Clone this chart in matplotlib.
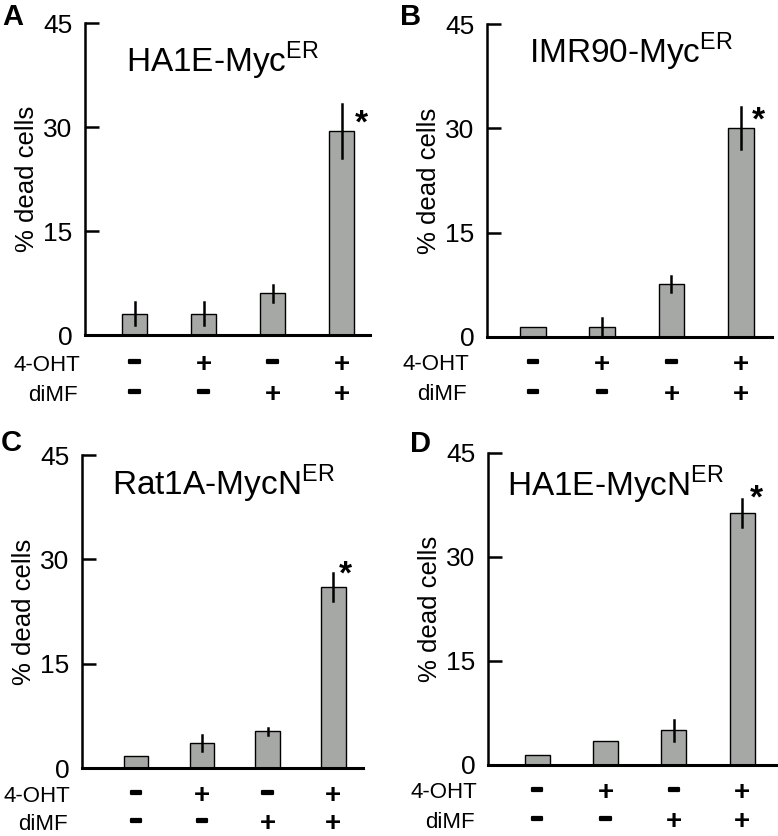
import matplotlib
matplotlib.use('Agg')
import matplotlib.pyplot as plt
import matplotlib.patheffects as pe

plt.rcParams['font.family'] = ['Liberation Sans', 'DejaVu Sans']
plt.rcParams['mathtext.fontset'] = 'custom'
plt.rcParams['mathtext.rm'] = 'Liberation Sans'

# datos
letras = ['A', 'B', 'C', 'D']
titulos = [r'HA1E-Myc$^{\mathrm{ER}}$', r'IMR90-Myc$^{\mathrm{ER}}$',
           r'Rat1A-MycN$^{\mathrm{ER}}$', r'HA1E-MycN$^{\mathrm{ER}}$']
oht = ['-', '+', '-', '+']
dimf = ['-', '-', '+', '+']
medias_A = [3.1, 3.1, 6.0, 29.4]
err_A = [1.6, 1.6, 1.2, 3.9]
medias_B = [1.4, 1.4, 7.6, 30.0]
err_B = [0, 1.3, 1.2, 3.0]
medias_C = [1.7, 3.6, 5.3, 26.0]
err_C = [0, 1.2, 0.5, 2.0]
medias_D = [1.4, 3.5, 5.0, 36.3]
err_D = [0, 0, 1.5, 2.0]
yticks = [0, 15, 30, 45]

medias = [medias_A, medias_B, medias_C, medias_D]
errores = [err_A, err_B, err_C, err_D]

# posiciones en pixeles (izq, der, abajo, arriba)
cajas = [(85, 370, 335, 23), (487, 772, 337, 24), (82, 363, 768, 455), (488, 777, 765, 453)]
xlims = [(-0.72, 3.41), (-0.66, 3.45), (-0.82, 3.45), (-0.72, 3.51)]
pos_titulo = [(-0.12, 37.9), (-0.06, 39.4), (-0.37, 39.2), (-0.44, 38.8)]
pos_ast = [(3.28, 32.0), (3.25, 32.6), (3.18, 29.3), (3.21, 39.8)]
pos_letra = [(13, 17), (411, 17), (11, 443), (420, 444)]
ancho_lbl = [5, 18, 12, 11]
filas = [(30, 60), (28, 58), (28, 56), (28, 57)]

W, H = 778, 836
fig = plt.figure(figsize=(W / 100, H / 100), dpi=100)
x = [0, 1, 2, 3]

def signo(ax, s, xi, dy):
    if s == '+':
        ax.annotate('+', xy=(xi, 0), xycoords=('data', 'axes fraction'),
                    xytext=(0, -dy), textcoords='offset pixels',
                    ha='center', va='center', fontsize=20, fontweight='bold')
    else:
        ax.annotate('\u2212', xy=(xi, 0), xycoords=('data', 'axes fraction'),
                    xytext=(0, -dy + 2), textcoords='offset pixels',
                    ha='center', va='center', fontsize=15, fontweight='bold',
                    path_effects=[pe.withStroke(linewidth=1.6, foreground='black')])

for i in range(4):
    l, r, b, t = cajas[i]
    ax = fig.add_axes([l / W, 1 - b / H, (r - l) / W, (b - t) / H])
    m = medias[i]
    e = errores[i]
    ax.bar(x, m, width=0.37, color='#a6a8a6', edgecolor='black', linewidth=1.0, zorder=2)
    for xi, mi, ei in zip(x, m, e):
        if ei > 0:
            ax.plot([xi, xi], [mi - ei, mi + ei], color='black', lw=1.8, zorder=3)
    ax.set_xlim(*xlims[i])
    ax.set_ylim(0, 45)
    ax.set_yticks(yticks)
    ax.set_xticks([])
    ax.spines['top'].set_visible(False)
    ax.spines['right'].set_visible(False)
    ax.spines['left'].set_linewidth(1.8)
    ax.spines['bottom'].set_linewidth(2.2)
    ax.tick_params(axis='y', direction='in', length=10, width=1.8, labelsize=19, pad=9)
    ax.set_ylabel('% dead cells', fontsize=18.5, labelpad=3)
    ax.text(pos_titulo[i][0], pos_titulo[i][1], titulos[i], fontsize=24,
            ha='left', va='baseline')
    # asterisco
    ax.annotate('*', xy=pos_ast[i], xytext=(0, -19), textcoords='offset pixels',
                fontsize=24, fontweight='bold', ha='center', va='baseline')
    # filas de tratamientos
    for xi, s1, s2 in zip(x, oht, dimf):
        signo(ax, s1, xi, filas[i][0])
        signo(ax, s2, xi, filas[i][1])
    ax.annotate('4-OHT', xy=(0, 0), xycoords='axes fraction', xytext=(-ancho_lbl[i], -filas[i][0]),
                textcoords='offset pixels', ha='right', va='center', fontsize=16)
    ax.annotate('diMF', xy=(0, 0), xycoords='axes fraction', xytext=(-ancho_lbl[i] - 2, -filas[i][1]),
                textcoords='offset pixels', ha='right', va='center', fontsize=16)
    fig.text(pos_letra[i][0] / W, 1 - pos_letra[i][1] / H, letras[i], fontsize=21,
             fontweight='bold', ha='center', va='center')

fig.savefig('out.png', dpi=100)
